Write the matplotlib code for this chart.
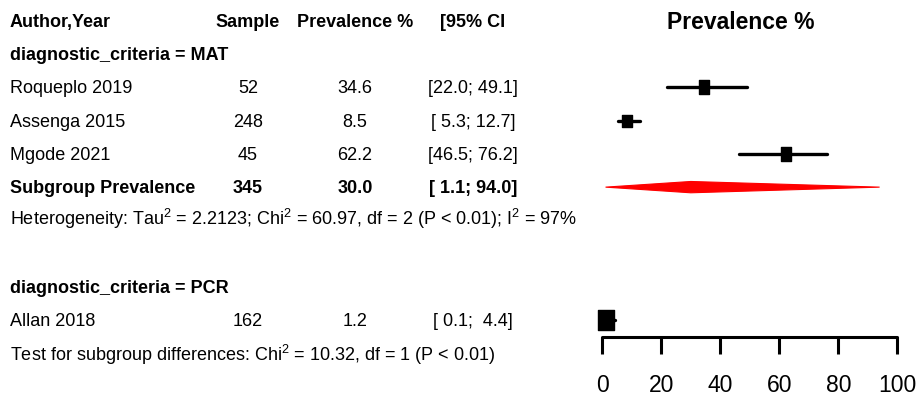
import matplotlib
matplotlib.use("Agg")
import matplotlib.pyplot as plt
from matplotlib.path import Path
from matplotlib.patches import Polygon
from matplotlib.transforms import blended_transform_factory

plt.rcParams['font.family'] = ['Liberation Sans', 'DejaVu Sans']
plt.rcParams['mathtext.fontset'] = 'custom'
plt.rcParams['mathtext.rm'] = 'Liberation Sans'
plt.rcParams['mathtext.it'] = 'Liberation Sans:italic'
plt.rcParams['mathtext.bf'] = 'Liberation Sans:bold'

# ---- data ----
studies = ["Roqueplo 2019", "Assenga 2015", "Mgode 2021", "Allan 2018"]
study_rows = [2, 3, 4, 9]
samples = [52, 248, 45, 162]
prev = [34.6, 8.5, 62.2, 1.2]
ci_low = [22.0, 5.3, 46.5, 0.1]
ci_high = [49.1, 12.7, 76.2, 4.4]
ci_text = ["[22.0; 49.1]", "[ 5.3; 12.7]", "[46.5; 76.2]", "[ 0.1;  4.4]"]
marker_sizes = [10, 9, 10, 15]

sub_label = "Subgroup Prevalence"
sub_row = 5
sub_n = 345
sub_prev = 30.0
sub_low = 1.1
sub_high = 94.0
sub_ci_text = "[ 1.1; 94.0]"

het_text = ("Heterogeneity: Tau$^2$ = 2.2123; Chi$^2$ = 60.97, df = 2 (P < 0.01); "
            "I$^2$ = 97%")
test_text = "Test for subgroup differences: Chi$^2$ = 10.32, df = 1 (P < 0.01)"
group_labels = ["diagnostic_criteria = MAT", "diagnostic_criteria = PCR"]
group_rows = [1, 8]
headers = ["Author,Year", "Sample", "Prevalence %", "[95% CI"]
xticks = [0, 20, 40, 60, 80, 100]

# ---- layout ----
W, H = 919, 399
fig = plt.figure(figsize=(W / 100, H / 100), dpi=100)

ROW0 = 22.3      # pixel y of row 0 (from top)
DROW = 33.3      # pixels per row
axis_px = 336.5  # pixel y of axis line
x0_px, x1_px = 602.3, 897.3

ax = fig.add_axes([x0_px / W, (H - axis_px) / H, (x1_px - x0_px) / W, axis_px / H])
ax.set_xlim(0, 100)
top_row = (0 - ROW0) / DROW
bot_row = (axis_px - ROW0) / DROW
ax.set_ylim(bot_row, top_row)
ax.patch.set_visible(False)
for s in ["top", "left", "right"]:
    ax.spines[s].set_visible(False)
ax.spines["bottom"].set_linewidth(2.2)
ax.spines["bottom"].set_capstyle("round")
ax.set_yticks([])
ax.set_xticks(xticks)
ax.set_xticklabels([str(t) for t in xticks], fontsize=16.5)
ax.tick_params(axis="x", length=12, width=2.2, pad=15, direction="out")

# rectangular marker (slightly taller than wide)
rect_marker = Path([(-0.38, -0.5), (0.38, -0.5), (0.38, 0.5), (-0.38, 0.5), (-0.38, -0.5)],
                   [Path.MOVETO, Path.LINETO, Path.LINETO, Path.LINETO, Path.CLOSEPOLY])

for r, p, lo, hi, ms in zip(study_rows, prev, ci_low, ci_high, marker_sizes):
    ax.plot([lo, hi], [r - 0.05, r - 0.05], color="black", lw=2.4,
            solid_capstyle="round", clip_on=False)
    ax.plot([p], [r - 0.05], marker=rect_marker, markersize=ms, color="black",
            linestyle="none", clip_on=False)

dh = 0.17
diamond = Polygon([(sub_low, sub_row - 0.05), (sub_prev, sub_row - 0.05 - dh),
                   (sub_high, sub_row - 0.05), (sub_prev, sub_row - 0.05 + dh)],
                  closed=True, facecolor="red", edgecolor="red", lw=0.8, clip_on=False)
ax.add_patch(diamond)

# ---- text ----
tr = blended_transform_factory(fig.transFigure, ax.transData)
FS = 13
col_author = 10 / W
col_sample = 248 / W
col_prev = 355 / W
col_ci = 473 / W

def txt(x, row, s, ha="left", bold=False, size=FS):
    fig.text(x, row, s, ha=ha, va="center", transform=tr, fontsize=size,
             fontweight="bold" if bold else "normal")

txt(col_author, 0, headers[0], bold=True)
txt(col_sample, 0, headers[1], ha="center", bold=True)
txt(col_prev, 0, headers[2], ha="center", bold=True)
txt(col_ci, 0, headers[3], ha="center", bold=True)
fig.text(741 / W, 0, "Prevalence %", ha="center", va="center", transform=tr,
         fontsize=16.5, fontweight="bold")

for g, r in zip(group_labels, group_rows):
    txt(col_author, r, g, bold=True)

for name, r, n, p, c in zip(studies, study_rows, samples, prev, ci_text):
    txt(col_author, r, name)
    txt(col_sample, r, str(n), ha="center")
    txt(col_prev, r, f"{p:.1f}", ha="center")
    txt(col_ci, r, c, ha="center")

txt(col_author, sub_row, sub_label, bold=True)
txt(col_sample, sub_row, str(sub_n), ha="center", bold=True)
txt(col_prev, sub_row, f"{sub_prev:.1f}", ha="center", bold=True)
txt(col_ci, sub_row, sub_ci_text, ha="center", bold=True)

txt(col_author, 5.9, het_text)
txt(col_author, 10, test_text)

fig.savefig("out.png", dpi=100)
